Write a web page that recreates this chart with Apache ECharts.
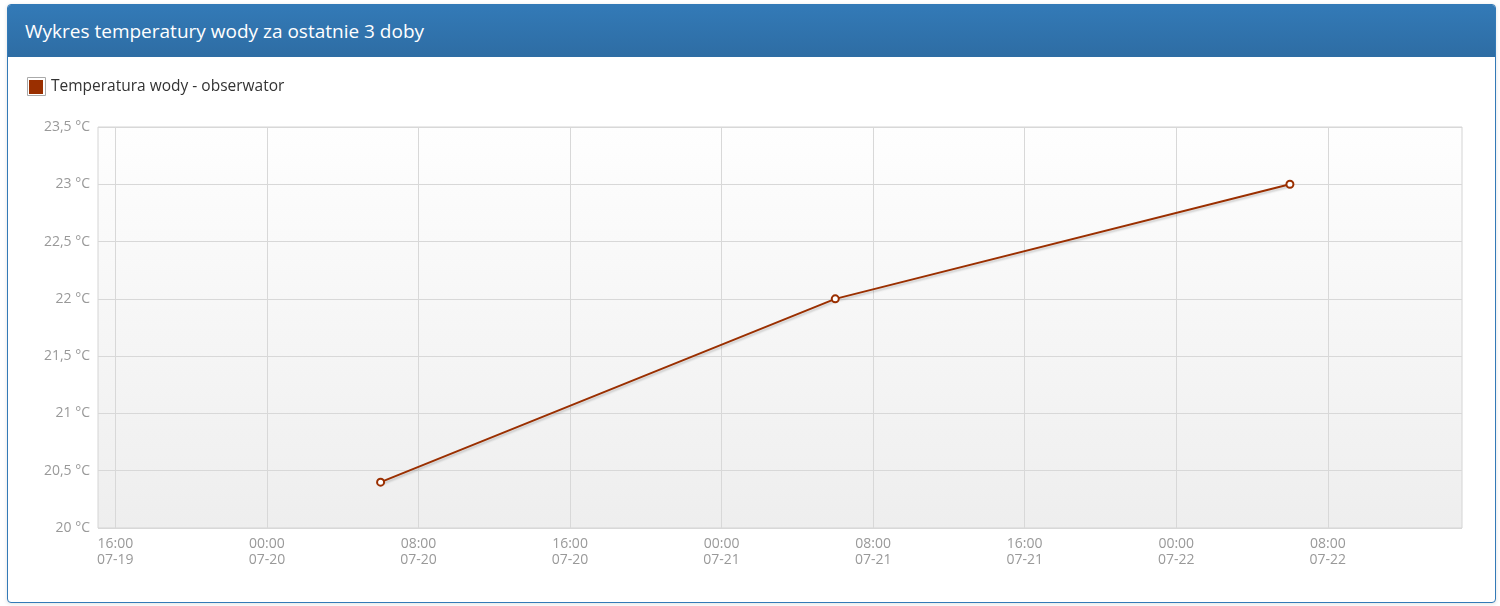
<!DOCTYPE html>
<html>
<head>
<meta charset="utf-8">
<script src="https://cdn.jsdelivr.net/npm/echarts@6/dist/echarts.min.js"></script>
<style>
  html, body { margin: 0; padding: 0; background: #fff; width: 1500px; height: 606px; overflow: hidden; font-family: "Open Sans", sans-serif; }
  #panel { position: absolute; left: 7px; top: 4px; width: 1487px; height: 597px; border: 1px solid #337ab7; border-radius: 4px; box-shadow: 0 1px 4px rgba(0,0,0,0.12); background: #fff; overflow: hidden; }
  #head { height: 52px; background: linear-gradient(#337ab7, #2e6da4); color: #fff; font-size: 19px; line-height: 52px; padding-left: 17px; box-sizing: border-box; border-bottom: 1px solid #2e6da4; }
  #chart { position: absolute; left: 0; top: 52px; width: 1487px; height: 545px; }
</style>
</head>
<body>
<div id="panel">
  <div id="head">Wykres temperatury wody za ostatnie 3 doby</div>
  <div id="chart"></div>
</div>
<script>
// ---- data ----
const seriesName = 'Temperatura wody - obserwator';
const pointTimes = ['2023-07-20 06:00', '2023-07-21 06:00', '2023-07-22 06:00'];
const pointValues = [20.4, 22.0, 23.0];
const xTickTimes = ['2023-07-19 16:00', '2023-07-20 00:00', '2023-07-20 08:00', '2023-07-20 16:00',
  '2023-07-21 00:00', '2023-07-21 08:00', '2023-07-21 16:00', '2023-07-22 00:00', '2023-07-22 08:00'];
const xRange = ['2023-07-19 15:05', '2023-07-22 15:05'];
const yMin = 20, yMax = 23.5, yStep = 0.5;

function toMs(s) {
  const m = s.match(/(\d+)-(\d+)-(\d+) (\d+):(\d+)/);
  return Date.UTC(+m[1], +m[2] - 1, +m[3], +m[4], +m[5]);
}
function pad(n) { return (n < 10 ? '0' : '') + n; }
function fmtX(v) {
  const d = new Date(v);
  return pad(d.getUTCHours()) + ':' + pad(d.getUTCMinutes()) + '\n' + pad(d.getUTCMonth() + 1) + '-' + pad(d.getUTCDate());
}
const tickMs = xTickTimes.map(toMs);
const seriesData = pointTimes.map((t, i) => [toMs(t), pointValues[i]]);

const chart = echarts.init(document.getElementById('chart'), null, { renderer: 'canvas' });
const lineColor = '#9a2f00';
chart.setOption({
  animation: false,
  textStyle: { fontFamily: '"Open Sans", sans-serif' },
  legend: {
    left: 21, top: 22, padding: 0,
    itemWidth: 14, itemHeight: 14, itemGap: 6,
    icon: 'rect',
    textStyle: { color: '#333', fontSize: 15.5, padding: [0, 0, 0, 3] },
    itemStyle: { color: lineColor, borderWidth: 0 },
    data: [seriesName]
  },
  graphic: [{
    type: 'rect', left: 19, top: 20, z: -1,
    shape: { width: 18, height: 18 },
    style: { fill: '#fff', stroke: '#aaa', lineWidth: 1 }
  }],
  grid: {
    left: 90, top: 70, right: 33, bottom: 74,
    show: true,
    borderColor: '#d4d4d4', borderWidth: 1,
    backgroundColor: new echarts.graphic.LinearGradient(0, 0, 0, 1, [
      { offset: 0, color: '#fefefe' }, { offset: 1, color: '#eeeeee' }
    ])
  },
  xAxis: {
    type: 'value',
    min: toMs(xRange[0]), max: toMs(xRange[1]),
    axisLine: { show: false },
    axisTick: { show: false, customValues: tickMs },
    splitLine: { show: true, lineStyle: { color: '#d8d8d8', width: 1 } },
    axisLabel: {
      customValues: tickMs,
      formatter: fmtX,
      color: '#999', fontSize: 14, lineHeight: 16, margin: 8
    }
  },
  yAxis: {
    type: 'value',
    min: yMin, max: yMax, interval: yStep,
    axisLine: { show: false },
    axisTick: { show: false },
    splitLine: { show: true, lineStyle: { color: '#d8d8d8', width: 1 } },
    axisLabel: {
      color: '#999', fontSize: 14, margin: 8,
      formatter: v => String(v).replace('.', ',') + ' °C'
    }
  },
  series: [{
    name: seriesName,
    type: 'line',
    data: seriesData,
    color: lineColor,
    symbol: 'circle',
    symbolSize: 7,
    lineStyle: { width: 2, color: lineColor, shadowColor: 'rgba(0,0,0,0.18)', shadowBlur: 2, shadowOffsetX: 1, shadowOffsetY: 2 },
    itemStyle: { color: '#fff', borderColor: lineColor, borderWidth: 2 }
  }]
});
</script>
</body>
</html>
